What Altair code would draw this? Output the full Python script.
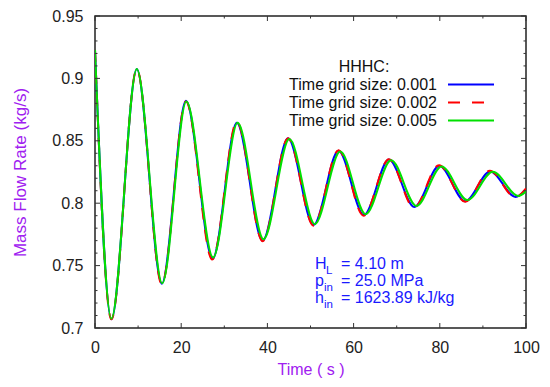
import altair as alt
import pandas as pd

# ---------------- data ----------------
series_names = ["Time grid size: 0.001", "Time grid size: 0.002", "Time grid size: 0.005"]

t_001 = [0, 3.8, 9.7, 15.5, 21.1, 27.3, 32.9, 38.9, 44.8, 50.7, 56.5, 62.4, 68.2, 74.1, 79.9, 85.9, 91.7, 97.6, 100]
y_001 = [0.923, 0.707, 0.9075, 0.7355, 0.882, 0.7555, 0.8645, 0.770, 0.852, 0.7825, 0.842, 0.7905, 0.835, 0.797, 0.830, 0.8015, 0.8255, 0.8050, 0.8110]

t_002 = [0, 3.8, 9.7, 15.5, 21.1, 27.2, 32.9, 38.9, 44.8, 50.7, 56.5, 62.3, 68.2, 74.0, 79.8, 85.9, 91.6, 97.5, 100]
y_002 = [0.923, 0.707, 0.9075, 0.735, 0.8815, 0.7548, 0.8652, 0.7695, 0.852, 0.782, 0.8425, 0.790, 0.8352, 0.7965, 0.8305, 0.8012, 0.826, 0.8048, 0.8118]

t_005 = [0, 3.8, 9.7, 15.6, 21.2, 27.4, 33.1, 39.1, 45.1, 51.0, 56.9, 62.8, 68.7, 74.6, 80.4, 86.4, 92.3, 98.2, 100]
y_005 = [0.923, 0.7075, 0.9075, 0.7358, 0.8815, 0.7565, 0.8645, 0.7712, 0.8515, 0.7832, 0.8415, 0.7912, 0.8345, 0.7978, 0.8295, 0.8025, 0.8252, 0.8058, 0.8095]

x_major = [0, 20, 40, 60, 80, 100]
x_minor = [10, 30, 50, 70, 90]
y_major = [0.7, 0.75, 0.8, 0.85, 0.9, 0.95]
y_minor = [0.71, 0.72, 0.73, 0.74, 0.76, 0.77, 0.78, 0.79, 0.81, 0.82, 0.83, 0.84,
           0.86, 0.87, 0.88, 0.89, 0.91, 0.92, 0.93, 0.94]

legend_title = "HHHC:"
ann_main = ["H", "p", "h"]
ann_sub = ["L", "in", "in"]
ann_rest = ["= 4.10 m", "= 25.0 MPa", "= 1623.89 kJ/kg"]

# ---------------- styling ----------------
FONT = "Liberation Sans"
PURPLE = "#a020f0"
BLUE = "#0000ff"
RED = "#ff0000"
GREEN = "#00e000"
ANN = "#1a1aff"
W, H = 431, 312

df = pd.concat([
    pd.DataFrame({"t": t_001, "y": y_001, "s": series_names[0]}),
    pd.DataFrame({"t": t_002, "y": y_002, "s": series_names[1]}),
    pd.DataFrame({"t": t_005, "y": y_005, "s": series_names[2]}),
], ignore_index=True)

xs = alt.Scale(domain=[0, 100], nice=False, zero=False)
ysc = alt.Scale(domain=[0.7, 0.95], nice=False, zero=False)

x_axis = alt.Axis(values=x_major, format="d", ticks=False, domain=False, grid=False,
                  labelFlush=False, labelOverlap=False,
                  labelPadding=11, labelFontSize=16, labelFont=FONT, labelColor="#222",
                  title="Time ( s )", titleColor=PURPLE, titleFontSize=16, titleFont=FONT,
                  titleFontWeight="normal", titleY=46, titleBaseline="alphabetic")
y_axis = alt.Axis(values=y_major, format=".2~f", ticks=False, domain=False, grid=False,
                  labelFlush=False, labelOverlap=False,
                  labelPadding=12, labelFontSize=16, labelFont=FONT, labelColor="#222",
                  title="Mass Flow Rate (kg/s)", titleColor=PURPLE, titleFontSize=17,
                  titleFont=FONT, titleFontWeight="normal", titleX=-70,
                  titleBaseline="alphabetic")


def curve(name, color, dash=None):
    kw = dict(color=color, strokeWidth=2, interpolate="monotone", clip=True)
    if dash is not None:
        kw["strokeDash"] = dash
    return alt.Chart(df[df.s == name]).mark_line(**kw).encode(
        x=alt.X("t:Q", scale=xs, axis=x_axis),
        y=alt.Y("y:Q", scale=ysc, axis=y_axis),
    )


layers = [
    curve(series_names[0], BLUE),
    curve(series_names[1], RED, dash=[12, 10]),
    curve(series_names[2], GREEN),
]

# inward ticks on all four sides
def xticks(vals, length):
    d = pd.DataFrame({"t": vals})
    base = alt.Chart(d).mark_rule(color="#333", strokeWidth=1)
    top = base.encode(x=alt.X("t:Q", scale=xs, axis=x_axis), y=alt.value(0), y2=alt.value(length))
    bot = base.encode(x=alt.X("t:Q", scale=xs, axis=x_axis), y=alt.value(H - length), y2=alt.value(H))
    return [top, bot]


def yticks(vals, length):
    d = pd.DataFrame({"y": vals})
    base = alt.Chart(d).mark_rule(color="#333", strokeWidth=1)
    left = base.encode(y=alt.Y("y:Q", scale=ysc, axis=y_axis), x=alt.value(0), x2=alt.value(length))
    right = base.encode(y=alt.Y("y:Q", scale=ysc, axis=y_axis), x=alt.value(W - length), x2=alt.value(W))
    return [left, right]


layers += xticks(x_major, 5) + xticks(x_minor, 2.5) + yticks(y_major, 5) + yticks(y_minor, 2.5)


def text(s, x, y, size=16, color="#111", align="left"):
    return alt.Chart(pd.DataFrame({"s": [s]})).mark_text(
        align=align, baseline="alphabetic", fontSize=size, font=FONT, color=color
    ).encode(x=alt.value(x), y=alt.value(y), text="s:N")


# legend
layers.append(text(legend_title, 269, 56, align="center"))
leg_y = [74, 92, 110]
for name, yy in zip(series_names, leg_y):
    layers.append(text(name, 342, yy, align="right"))
sample_cols = [BLUE, RED, GREEN]
for i, (c, yy) in enumerate(zip(sample_cols, leg_y)):
    kw = dict(color=c, strokeWidth=2)
    if i == 1:
        kw["strokeDash"] = [12, 12]
    layers.append(
        alt.Chart(pd.DataFrame({"s": [series_names[i]]})).mark_rule(**kw).encode(
            x=alt.value(353), x2=alt.value(399), y=alt.value(yy - 5.5)
        )
    )

# annotation
ann_y = [253, 270, 287]
sub_x = [231, 229, 229]
for m, sb, r, yy, sx in zip(ann_main, ann_sub, ann_rest, ann_y, sub_x):
    layers.append(text(m, 220, yy, color=ANN))
    layers.append(text(sb, sx, yy + 4.5, size=11.5, color=ANN))
    layers.append(text(r, 246, yy, color=ANN))

chart = alt.layer(*layers).properties(
    width=W, height=H,
    autosize=alt.AutoSizeParams(type="none"),
    padding={"left": 87, "top": 8, "right": 16, "bottom": 51},
    background="white",
).configure_view(stroke="#222", strokeWidth=1.5)

chart.save("out.html", embed_options={"renderer": "svg", "actions": False})
